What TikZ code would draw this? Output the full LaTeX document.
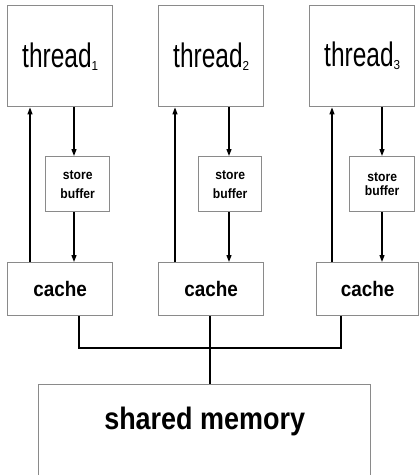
\documentclass[tikz,border=0pt]{standalone}
\usepackage{fontspec}
\setmainfont{Liberation Sans}
\newfontfamily\thinfont[FakeStretch=0.72]{Liberation Sans}
\newfontfamily\subfont[FakeStretch=0.9]{Liberation Sans}
\newfontfamily\narrowbold[FakeStretch=0.9]{Liberation Sans Bold}
\newfontfamily\memfont[FakeStretch=0.87]{Liberation Sans Bold}
\usetikzlibrary{arrows.meta}
\definecolor{boxgray}{HTML}{8A8A8A}
\newcommand{\thr}[1]{{\thinfont\fontsize{34}{34}\selectfont thread\raisebox{-3pt}{\subfont\fontsize{13}{13}\selectfont #1}}}
\tikzset{
  box/.style={draw=boxgray, line width=1.4pt, fill=white, inner sep=0pt, anchor=north west},
  threadbox/.style={box, minimum width=105pt, minimum height=101pt},
  sbbox/.style={box, minimum width=64pt, minimum height=55pt, align=center,
     font=\narrowbold\fontsize{13.5}{19}\selectfont},
  cachebox/.style={box, minimum width=105pt, minimum height=53pt,
     font=\narrowbold\fontsize{21}{21}\selectfont},
  arr/.style={draw=black, line width=1.2pt, -{Triangle[length=7pt,width=5pt]}},
  wire/.style={draw=black, line width=1.2pt}
}
\begin{document}
\begin{tikzpicture}[x=1pt, y=-1pt]
\useasboundingbox (0,0) rectangle (419,475);
\clip (0,0) rectangle (419,475);
% threads
\node[threadbox] (t1) at (7,5) {\thr{1}};
\node[threadbox] (t2) at (158,5) {\thr{2}};
\node[threadbox] (t3) at (309,5) {\thr{3}};
% store buffers
\node[sbbox] (s1) at (45,156) {store\\buffer};
\node[sbbox, minimum width=63pt] (s2) at (198,156) {store\\buffer};
\node[sbbox, minimum width=65pt] (s3) at (349,156) {\raisebox{-5pt}{\shortstack{store\\[2pt]buffer}}};
% caches
\node[cachebox] (c1) at (7,262) {cache};
\node[cachebox] (c2) at (158,262) {cache};
\node[cachebox, minimum width=102pt] (c3) at (316,262) {cache};
% memory
\node[box, minimum width=332pt, minimum height=140pt,
  label={[anchor=center, yshift=-37pt, font=\memfont\fontsize{31}{31}\selectfont]north:shared memory}]
  (mem) at (38,384) {};
% arrow x positions
\coordinate (u1) at (30,0); \coordinate (d1) at (74,0);
\coordinate (u2) at (175,0); \coordinate (d2) at (229,0);
\coordinate (u3) at (332,0); \coordinate (d3) at (382,0);
\coordinate (b1) at (79,348); \coordinate (b2) at (210,348); \coordinate (b3) at (341,348);
% arrows
\foreach \i in {1,2,3}{
  \draw[arr] (c\i.north -| u\i) -- (t\i.south -| u\i);
  \draw[arr] (t\i.south -| d\i) -- (s\i.north -| d\i);
  \draw[arr] (s\i.south -| d\i) -- (c\i.north -| d\i);
}
% bus
\draw[wire] (c1.south -| b1) -- (b1) -- (b3) -- (c3.south -| b3);
\draw[wire] (c2.south -| b2) -- (mem.north -| b2);
\end{tikzpicture}
\end{document}
